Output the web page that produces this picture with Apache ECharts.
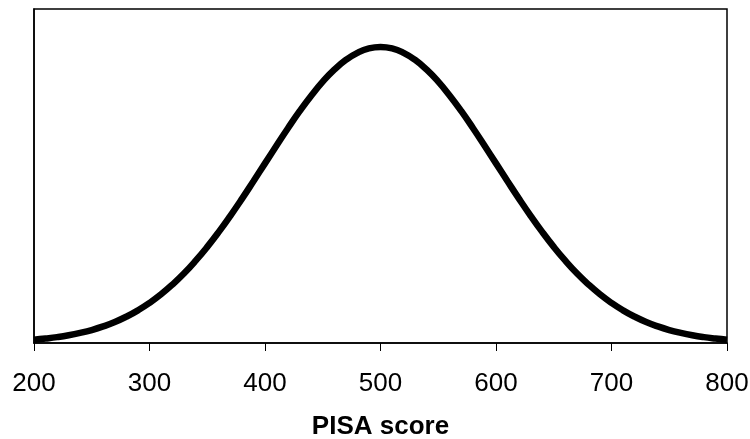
<!DOCTYPE html>
<html>
<head>
<meta charset="utf-8">
<script src="https://cdn.jsdelivr.net/npm/echarts@6/dist/echarts.min.js"></script>
<style>
html,body{margin:0;padding:0;background:#fff;}
#chart{width:750px;height:439px;}
</style>
</head>
<body>
<div id="chart"></div>
<script>
// PISA score (x) and relative density (y)
const scores = [200,210,220,230,240,250,260,270,280,290,300,310,320,330,340,350,360,370,380,390,400,410,420,430,440,450,460,470,480,490,500,510,520,530,540,550,560,570,580,590,600,610,620,630,640,650,660,670,680,690,700,710,720,730,740,750,760,770,780,790,800];
const density = [0.44,0.60,0.79,1.04,1.36,1.75,2.24,2.83,3.55,4.40,5.40,6.56,7.90,9.40,11.09,12.95,14.97,17.14,19.42,21.79,24.20,26.61,28.97,31.23,33.32,35.21,36.83,38.14,39.10,39.70,39.89,39.70,39.10,38.14,36.83,35.21,33.32,31.23,28.97,26.61,24.20,21.79,19.42,17.14,14.97,12.95,11.09,9.40,7.90,6.56,5.40,4.40,3.55,2.83,2.24,1.75,1.36,1.04,0.79,0.60,0.44];
const xTicks = [200,300,400,500,600,700,800];
const xTitle = 'PISA score';

const chart = echarts.init(document.getElementById('chart'));
chart.setOption({
  animation: false,
  grid: {left: 34, right: 23, top: 9, bottom: 96, containLabel: false, outerBoundsMode: 'none', show: true, borderColor: '#000', borderWidth: 1.5, backgroundColor: '#fff'},
  xAxis: {
    type: 'value', min: xTicks[0], max: xTicks[xTicks.length-1], interval: 100,
    name: xTitle, nameLocation: 'middle', nameGap: 71,
    nameTextStyle: {fontFamily: 'Liberation Sans, Arial, sans-serif', fontWeight: 'bold', fontSize: 26, color: '#000'},
    axisLine: {show: true, lineStyle: {color: '#000', width: 1.5}},
    axisTick: {show: true, inside: false, length: 8, lineStyle: {color: '#000', width: 1}},
    axisLabel: {fontFamily: 'Liberation Sans, Arial, sans-serif', fontSize: 26, color: '#000', margin: 28},
    splitLine: {show: false}
  },
  yAxis: {
    type: 'value', min: 0, max: 45,
    axisLine: {show: true, lineStyle: {color: '#000', width: 1.5}},
    axisTick: {show: false}, axisLabel: {show: false}, splitLine: {show: false}
  },
  series: [{
    type: 'line', data: scores.map((s,i)=>[s, density[i]]),
    smooth: true, showSymbol: false,
    lineStyle: {color: '#000', width: 6.5}
  }]
});
</script>
</body>
</html>
